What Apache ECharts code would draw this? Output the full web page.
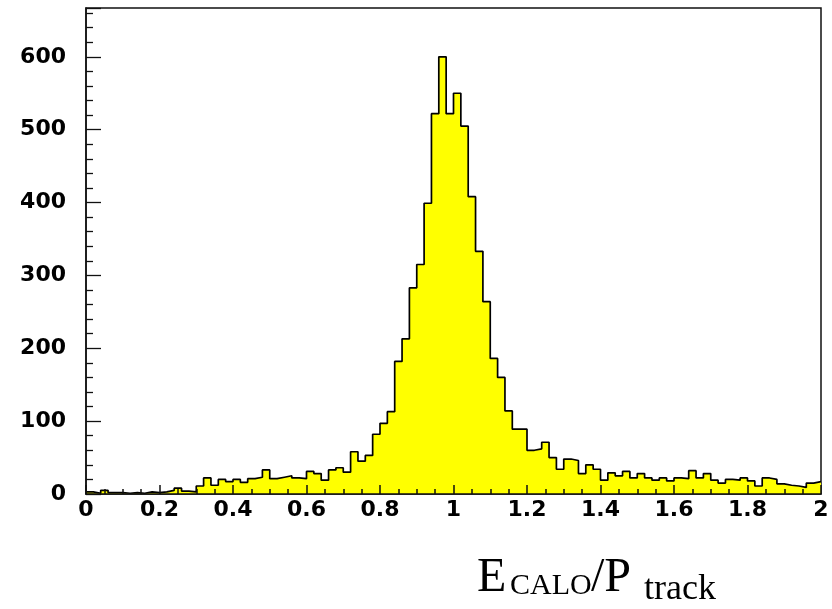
<!DOCTYPE html>
<html>
<head>
<meta charset="utf-8">
<script src="https://cdn.jsdelivr.net/npm/echarts@6/dist/echarts.min.js"></script>
<style>
html,body{margin:0;padding:0;background:#fff;}
#chart{width:832px;height:609px;}
</style>
</head>
<body>
<div id="chart"></div>
<script>
// Histogram: E_CALO/P_track, 100 bins from 0 to 2
const binLow = 0;
const binWidth = 0.02;
const counts = [
  3, 1, 5, 2, 2, 1, 2, 1, 3, 2,
  3, 5, 8, 4, 3, 11, 22, 12, 20, 17,
  20, 16, 21, 23, 33, 21, 23, 25, 22, 21,
  31, 28, 19, 33, 36, 30, 58, 45, 53, 82,
  97, 113, 182, 213, 283, 315, 399, 522, 600, 522,
  550, 505, 408, 333, 264, 186, 160, 114, 89, 89,
  60, 62, 71, 50, 34, 48, 46, 28, 40, 34,
  19, 29, 25, 31, 22, 28, 22, 19, 22, 18,
  22, 21, 32, 22, 28, 19, 15, 20, 19, 22,
  18, 11, 22, 20, 14, 12, 11, 9, 15, 17
];
const xTickLabels = ['0', '0.2', '0.4', '0.6', '0.8', '1', '1.2', '1.4', '1.6', '1.8', '2'];
const yTickLabels = ['0', '100', '200', '300', '400', '500', '600'];

// step data: left edge of each bin, plus closing point at upper edge
const stepData = counts.map((c, i) => [binLow + i * binWidth, c]);
stepData.push([binLow + counts.length * binWidth, counts[counts.length - 1]]);

const chart = echarts.init(document.getElementById('chart'), null, {renderer: 'canvas'});
const labelFont = {fontFamily: 'DejaVu Sans', fontWeight: 'bold', fontSize: 22, color: '#000'};

chart.setOption({
  animation: false,
  backgroundColor: '#fff',
  grid: {left: 86, right: 11, top: 8, bottom: 115, show: true, borderColor: '#111', borderWidth: 1.5, backgroundColor: 'transparent'},
  xAxis: {
    type: 'value', min: 0, max: 2, interval: 0.2, z: 10,
    axisLine: {show: true, onZero: false, lineStyle: {color: '#111', width: 1.5}},
    axisTick: {show: true, inside: true, length: 9, lineStyle: {color: '#111', width: 1.5}},
    minorTick: {show: true, splitNumber: 4, length: 5, lineStyle: {color: '#111', width: 1.5}},
    splitLine: {show: false},
    axisLabel: Object.assign({margin: 5, formatter: (v) => {
      const idx = Math.round(v / 0.2);
      return xTickLabels[idx] !== undefined ? xTickLabels[idx] : '';
    }}, labelFont)
  },
  yAxis: {
    type: 'value', min: 0, max: 667, interval: 100, z: 10,
    axisLine: {show: true, lineStyle: {color: '#111', width: 1.5}},
    axisTick: {show: true, inside: true, length: 15, lineStyle: {color: '#111', width: 1.3}},
    minorTick: {show: true, splitNumber: 5, length: 7, lineStyle: {color: '#111', width: 1.3}},
    splitLine: {show: false},
    axisLabel: Object.assign({margin: 20, showMaxLabel: false, formatter: (v) => {
      const idx = Math.round(v / 100);
      return (Math.abs(v - idx * 100) < 1e-6 && yTickLabels[idx] !== undefined) ? yTickLabels[idx] : '';
    }}, labelFont)
  },
  series: [{
    type: 'line',
    step: 'end',
    data: stepData,
    symbol: 'none',
    lineStyle: {color: '#000', width: 1.7},
    areaStyle: {color: '#ffff00', opacity: 1},
    z: 1
  }],
  graphic: [
    {type: 'text', left: 477, top: 554, style: {text: 'E', font: '48px "Liberation Serif"', fill: '#000'}},
    {type: 'text', left: 510, top: 571, style: {text: 'CALO', font: '30px "Liberation Serif"', fill: '#000'}},
    {type: 'text', left: 591, top: 554, style: {text: '/P', font: '48px "Liberation Serif"', fill: '#000'}},
    {type: 'text', left: 644, top: 572, style: {text: 'track', font: '36px "Liberation Serif"', fill: '#000'}}
  ]
});
</script>
</body>
</html>
